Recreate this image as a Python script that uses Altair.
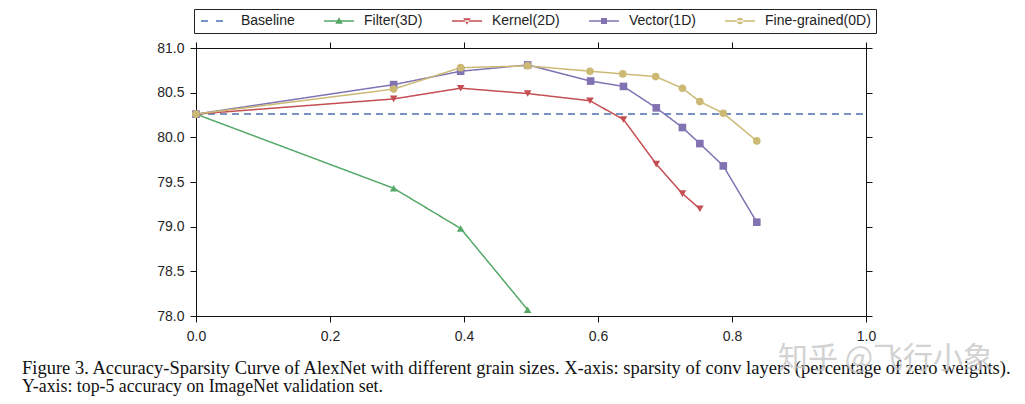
import altair as alt
import pandas as pd

series = ["Baseline", "Filter(3D)", "Kernel(2D)", "Vector(1D)", "Fine-grained(0D)"]
colors = ["#4C72B0", "#55A868", "#C44E52", "#8172B2", "#CCB974"]

baseline_x = [0.0, 1.0]
baseline_y = [80.26, 80.26]

filter_x = [0.0, 0.295, 0.395, 0.495]
filter_y = [80.26, 79.43, 78.98, 78.07]

kernel_x = [0.0, 0.295, 0.395, 0.495, 0.588, 0.638, 0.687, 0.726, 0.752]
kernel_y = [80.26, 80.43, 80.55, 80.49, 80.41, 80.20, 79.70, 79.37, 79.20]

vector_x = [0.0, 0.295, 0.395, 0.495, 0.589, 0.638, 0.687, 0.726, 0.752, 0.787, 0.837]
vector_y = [80.26, 80.59, 80.74, 80.81, 80.63, 80.57, 80.33, 80.11, 79.93, 79.68, 79.05]

fine_x = [0.0, 0.295, 0.395, 0.495, 0.588, 0.637, 0.686, 0.726, 0.752, 0.787, 0.837]
fine_y = [80.26, 80.54, 80.78, 80.80, 80.74, 80.71, 80.68, 80.55, 80.40, 80.27, 79.96]

x_ticks = [0.0, 0.2, 0.4, 0.6, 0.8, 1.0]
y_ticks = [78.0, 78.5, 79.0, 79.5, 80.0, 80.5, 81.0]

caption_lines = [
    "Figure 3. Accuracy-Sparsity Curve of AlexNet with different grain sizes.  X-axis: sparsity of conv layers (percentage of zero weights).",
    "Y-axis: top-5 accuracy on ImageNet validation set.",
]
watermark = ["知乎 @飞行小象"]

rows = []
for name, xs, ys in [
    (series[0], baseline_x, baseline_y),
    (series[1], filter_x, filter_y),
    (series[2], kernel_x, kernel_y),
    (series[3], vector_x, vector_y),
    (series[4], fine_x, fine_y),
]:
    for xv, yv in zip(xs, ys):
        rows.append({"series": name, "x": xv, "y": yv})
df = pd.DataFrame(rows)

xscale = alt.Scale(domain=[0, 1], nice=False, zero=False)
yscale = alt.Scale(domain=[78, 81], nice=False, zero=False)

legend_paths = [
    "M-1,-0.15H0.4V0.15H-1Z M2,-0.15H3.4V0.15H2Z",
    "M-1,-0.15H5V0.15H-1Z M2,-0.75L2.75,0.55H1.25Z",
    "M-1,-0.15H5V0.15H-1Z M2,0.75L2.75,-0.55H1.25Z",
    "M-1,-0.15H5V0.15H-1Z M1.4,-0.6H2.6V0.6H1.4Z",
    "M-1,-0.15H5V0.15H-1Z M1.35,0A0.65,0.65 0 1,0 2.65,0A0.65,0.65 0 1,0 1.35,0Z",
]

leg = dict(
    title=None,
    orient="none",
    legendX=-2,
    legendY=-39,
    direction="horizontal",
    labelFont="Liberation Sans",
    labelFontSize=14,
    labelColor="#222222",
    labelOffset=28,
    columnPadding=27,
    padding=5,
    strokeColor="#222222",
    symbolOpacity=1,
    symbolStrokeWidth=0,
    symbolSize=100,
)

base = alt.Chart(df)

lines = base.mark_line(strokeWidth=1.5).encode(
    x=alt.X("x:Q", scale=xscale,
            axis=alt.Axis(orient="bottom", values=x_ticks, format=".1f", title=None,
                          labelPadding=7, labelFlush=False)),
    y=alt.Y("y:Q", scale=yscale,
            axis=alt.Axis(orient="left", values=y_ticks, format=".1f", title=None,
                          labelPadding=6, labelFlush=False)),
    color=alt.Color("series:N", scale=alt.Scale(domain=series, range=colors), legend=None),
    strokeDash=alt.StrokeDash("series:N",
                              scale=alt.Scale(domain=series,
                                              range=[[7, 5], [1, 0], [1, 0], [1, 0], [1, 0]]),
                              legend=None),
)

points = base.transform_filter(alt.datum.series != "Baseline").mark_point(
    filled=True, size=58, opacity=1
).encode(
    x=alt.X("x:Q", scale=xscale,
            axis=alt.Axis(orient="top", values=x_ticks, labels=False, title=None)),
    y=alt.Y("y:Q", scale=yscale,
            axis=alt.Axis(orient="right", values=y_ticks, labels=False, title=None)),
    color=alt.Color("series:N", scale=alt.Scale(domain=series, range=colors), legend=None),
    shape=alt.Shape("series:N",
                    scale=alt.Scale(domain=series[1:],
                                    range=["triangle-up", "triangle-down", "square", "circle"]),
                    legend=None),
)

legend_layer = base.mark_point(filled=True, size=100, opacity=0).encode(
    x=alt.X("x:Q", scale=xscale, axis=None),
    y=alt.Y("y:Q", scale=yscale, axis=None),
    color=alt.Color("series:N", scale=alt.Scale(domain=series, range=colors),
                    legend=alt.Legend(**leg)),
    shape=alt.Shape("series:N", scale=alt.Scale(domain=series, range=legend_paths),
                    legend=alt.Legend(**leg)),
)

cap_df = pd.DataFrame({"text": caption_lines, "line": [0, 1]})
cap1 = alt.Chart(cap_df).transform_filter(alt.datum.line == 0).mark_text(
    font="Liberation Serif", fontSize=18.5, align="left", baseline="alphabetic", color="#111111"
).encode(x=alt.value(-174), y=alt.value(326), text="text:N")
cap2 = alt.Chart(cap_df).transform_filter(alt.datum.line == 1).mark_text(
    font="Liberation Serif", fontSize=17.8, align="left", baseline="alphabetic", color="#111111"
).encode(x=alt.value(-174), y=alt.value(344), text="text:N")

wm = alt.Chart(pd.DataFrame({"text": watermark})).mark_text(
    font="Noto Sans CJK SC", fontSize=30, align="left", baseline="middle",
    color="#c4c4c4", opacity=0.75
).encode(x=alt.value(582), y=alt.value(311), text="text:N")

chart = alt.layer(lines, points, legend_layer, cap1, cap2, wm).resolve_scale(
    color="independent", shape="independent", strokeDash="independent"
).resolve_axis(
    x="independent", y="independent"
).properties(
    width=670, height=268,
    autosize=alt.AutoSizeParams(type="none"),
    padding={"left": 188, "top": 40, "right": 151, "bottom": 80},
).configure_axis(
    grid=False,
    labelFont="Liberation Sans",
    labelFontSize=14,
    labelColor="#262626",
    domainColor="#111111",
    tickColor="#111111",
    tickSize=6,
    domainWidth=1,
    tickWidth=1,
).configure_view(stroke="#111111", strokeWidth=1)

chart.save("out.html", embed_options={"renderer": "svg", "actions": False})
